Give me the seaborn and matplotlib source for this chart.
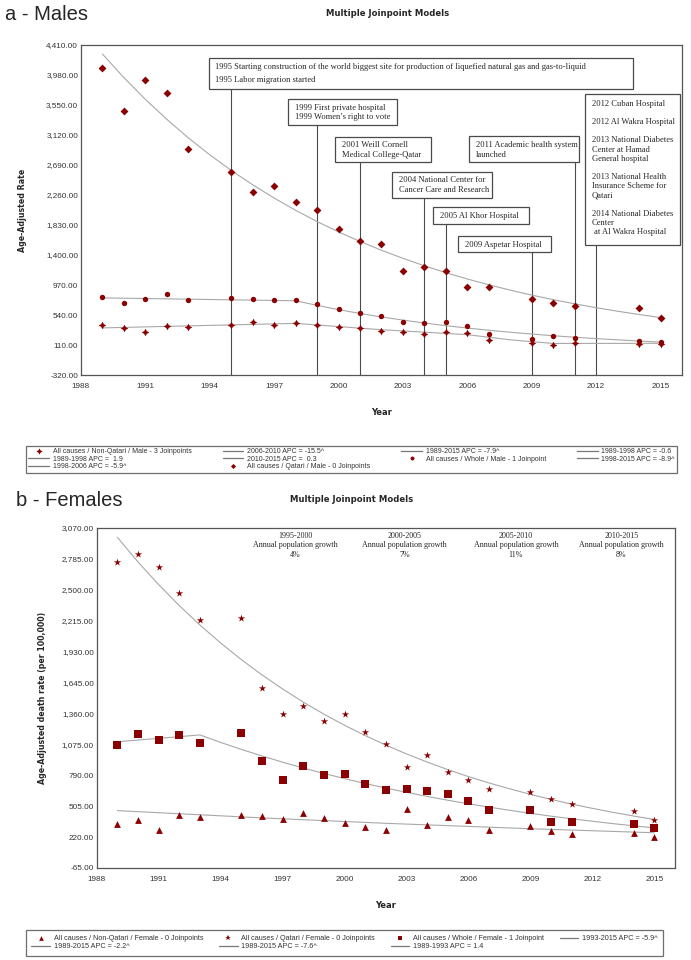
import seaborn as sns
import matplotlib.pyplot as plt
from matplotlib.patches import Rectangle
from matplotlib.lines import Line2D

# ---------------- data: panel a (males) ----------------
years = [1989, 1990, 1991, 1992, 1993, 1995, 1996, 1997, 1998, 1999, 2000, 2001,
         2002, 2003, 2004, 2005, 2006, 2007, 2009, 2010, 2011, 2014, 2015]
qatari_m = [4085, 3459, 3904, 3717, 2924, 2590, 2303, 2389, 2155, 2040, 1770, 1605,
            1558, 1175, 1228, 1166, 941, 941, 774, 707, 669, 636, 497]
whole_m = [798, 712, 769, 845, 760, 784, 769, 760, 755, 693, 626, 569,
           530, 444, 421, 440, 382, 268, 200, 239, 206, 172, 157]
nonqatari_m = [392, 349, 301, 378, 373, 397, 435, 401, 430, 392, 363, 349,
               311, 296, 263, 301, 277, 182, 143, 114, 134, 124, 120]

fit_years = list(range(1989, 2016))
qatari_m_fit = [4280, 3942, 3630, 3344, 3079, 2836, 2612, 2406, 2216, 2041, 1879, 1731, 1594,
                1468, 1352, 1245, 1147, 1056, 973, 896, 825, 760, 700, 645, 594, 547, 504]
whole_m_fit_years = [1989] + list(range(1998, 2016))
whole_m_fit = [785, 744, 678, 617, 562, 512, 467, 425, 387, 353, 321, 293, 267, 243, 221,
               202, 184, 167, 152]
nonqatari_m_fit_years = [1989, 1998, 2002, 2006, 2008, 2010, 2015]
nonqatari_m_fit = [355, 420, 329, 258, 184, 132, 134]

yticks_a = [-320, 110, 540, 970, 1400, 1830, 2260, 2690, 3120, 3550, 3980, 4410]

# ---------------- data: panel b (females) ----------------
qatari_f = [2753, 2832, 2709, 2469, 2222, 2238, 1591, 1354, 1425, 1293, 1351, 1188,
            1074, 864, 975, 822, 751, 661, 633, 575, 523, 464, 378]
whole_f = [1065, 1166, 1111, 1157, 1090, 1182, 917, 744, 874, 797, 800, 714,
           656, 665, 649, 615, 557, 467, 467, 363, 360, 341, 301]
nonqatari_f = [338, 381, 289, 425, 402, 421, 418, 384, 443, 393, 351, 314,
               289, 480, 335, 402, 381, 282, 326, 273, 252, 261, 218]

qatari_f_fit = [2984, 2757, 2548, 2354, 2175, 2010, 1857, 1716, 1586, 1465, 1354, 1251, 1156,
                1068, 987, 912, 842, 778, 719, 665, 614, 567, 524, 485, 448, 414, 382]
whole_f_fit_years = [1989] + list(range(1993, 2016))
whole_f_fit = [1099, 1162, 1093, 1029, 968, 911, 857, 807, 759, 714, 672, 633, 595, 560,
               527, 496, 467, 439, 413, 389, 366, 344, 324, 305]
nonqatari_f_fit_years = [1989, 1996, 2002, 2009, 2015]
nonqatari_f_fit = [464, 397, 347, 297, 260]

yticks_b = [-65, 220, 505, 790, 1075, 1360, 1645, 1930, 2215, 2500, 2785, 3070]

growth_periods = ['1995-2000', '2000-2005', '2005-2010', '2010-2015']
growth_values = ['4%', '7%', '11%', '8%']

# ---------------- style ----------------
sns.set_style('white')
plt.rcParams['font.family'] = ['Liberation Sans', 'DejaVu Sans']

RED = '#8b0000'
FIT = '#a8a8a8'
DARK = '#4a4a4a'
SERIF = 'Liberation Serif'
BOLD = 'DejaVu Sans'

fig = plt.figure(figsize=(6.91, 9.6), dpi=100)
ax_a = fig.add_axes([81 / 691, 1 - 375 / 960, 601 / 691, 330 / 960])
ax_b = fig.add_axes([96.7 / 691, 1 - 868 / 960, 578.3 / 691, 340 / 960])


def style_axes(ax, yticks, ylabel, ylab_x):
    ax.set_xlim(1988, 2016)
    ax.set_xticks(range(1988, 2016, 3))
    ax.set_ylim(yticks[0], yticks[-1])
    ax.set_yticks(yticks)
    ax.set_yticklabels([f'{v:,.2f}' for v in yticks])
    ax.tick_params(axis='both', length=0, labelsize=5.9, labelcolor='#333333')
    ax.tick_params(axis='x', pad=5.5)
    ax.tick_params(axis='y', pad=2)
    for s in ax.spines.values():
        s.set_color('#555555')
        s.set_linewidth(0.9)
    ax.set_xlabel('Year', family=BOLD, fontweight='bold', fontsize=6, labelpad=13)
    ax.set_ylabel(ylabel, family=BOLD, fontweight='bold', fontsize=5.7)
    ax.yaxis.set_label_coords(ylab_x, 0.5)


# ---------------- panel a ----------------
ax = ax_a
sns.lineplot(x=fit_years, y=qatari_m_fit, ax=ax, color=FIT, lw=0.8, sort=False, zorder=2)
sns.lineplot(x=whole_m_fit_years, y=whole_m_fit, ax=ax, color=FIT, lw=0.8, sort=False, zorder=2)
sns.lineplot(x=nonqatari_m_fit_years, y=nonqatari_m_fit, ax=ax, color=FIT, lw=0.8, sort=False, zorder=2)
sns.scatterplot(x=years, y=qatari_m, ax=ax, marker='D', s=16, color=RED, linewidth=0, zorder=4)
sns.scatterplot(x=years, y=whole_m, ax=ax, marker='o', s=15, color=RED, linewidth=0, zorder=4)
sns.scatterplot(x=years, y=nonqatari_m, ax=ax, marker=(4, 1, 0), s=30, color=RED, linewidth=0, zorder=4)
style_axes(ax, yticks_a, 'Age-Adjusted Rate', -0.09)


def note(ax, x0, x1, y0, y1, text, tx, ty, ls=1.25, va='center'):
    ax.add_patch(Rectangle((x0, y0), x1 - x0, y1 - y0, facecolor='white',
                           edgecolor=DARK, lw=0.9, zorder=5))
    ax.text(tx, ty, text, family=SERIF, fontsize=6.1, ha='left', va=va,
            linespacing=ls, zorder=6)


# event boxes, with a vertical line from each box down to the axis
events = [
    (1995, 1993.96, 2013.72, 3779, 4228,
     '1995 Starting construction of the world biggest site for production of liquefied natural gas and gas-to-liquid\n'
     '1995 Labor migration started', 1994.24, 3999, 1.8),
    (1999, 1997.65, 2002.73, 3263, 3636,
     '1999 First private hospital\n1999 Women\u2019s right to vote', 1997.97, 3443, 1.2),
    (2001, 1999.84, 2004.31, 2729, 3096,
     '2001 Weill Cornell\nMedical College-Qatar', 2000.16, 2905, 1.2),
    (2004, 2002.49, 2007.15, 2221, 2594,
     '2004 National Center for\nCancer Care and Research', 2002.80, 2403, 1.2),
    (2005, 2004.40, 2008.86, 1844, 2084, '2005 Al Khor Hospital', 2004.73, 1955, 1.2),
    (2009, 2005.57, 2009.90, 1439, 1672, '2009 Aspetar Hospital', 2005.89, 1548, 1.2),
    (2011, 2006.08, 2011.21, 2729, 3106,
     '2011 Academic health system\nlaunched', 2006.40, 2905, 1.2),
]
for yr, x0, x1, y0, y1, txt, tx, ty, ls in events:
    ax.vlines(yr, yticks_a[0], y0, color=DARK, lw=0.8, zorder=1)
    note(ax, x0, x1, y0, y1, txt, tx, ty, ls)

ax.vlines(2012, yticks_a[0], 1543, color=DARK, lw=0.8, zorder=1)
note(ax, 2011.49, 2015.91, 1543, 3703,
     '2012 Cuban Hospital\n\n2012 Al Wakra Hospital\n\n2013 National Diabetes\nCenter at Hamad\n'
     'General hospital\n\n2013 National Health\nInsurance Scheme for\nQatari\n\n'
     '2014 National Diabetes\nCenter\n at Al Wakra Hospital',
     2011.79, 3628, ls=1.2, va='top')

# ---------------- panel b ----------------
ax = ax_b
sns.lineplot(x=fit_years, y=qatari_f_fit, ax=ax, color=FIT, lw=0.8, sort=False, zorder=2)
sns.lineplot(x=whole_f_fit_years, y=whole_f_fit, ax=ax, color=FIT, lw=0.8, sort=False, zorder=2)
sns.lineplot(x=nonqatari_f_fit_years, y=nonqatari_f_fit, ax=ax, color=FIT, lw=0.8, sort=False, zorder=2)
sns.scatterplot(x=years, y=qatari_f, ax=ax, marker='*', s=30, color=RED, linewidth=0, zorder=4)
sns.scatterplot(x=years, y=whole_f, ax=ax, marker='s', s=26, color=RED, linewidth=0, zorder=4)
sns.scatterplot(x=years, y=nonqatari_f, ax=ax, marker='^', s=24, color=RED, linewidth=0, zorder=4)
style_axes(ax, yticks_b, 'Age-Adjusted death rate (per 100,000)', -0.086)

for cx, per, val in zip([1997.6, 2002.9, 2008.3, 2013.4], growth_periods, growth_values):
    ax.text(cx, 3036, f'{per}\nAnnual population growth\n{val}', family=SERIF,
            fontsize=5.8, ha='center', va='top', linespacing=1.25)

# ---------------- titles ----------------
fig.text(5 / 691, 1 - 14 / 960, 'a - Males', fontsize=14.5, ha='left', va='center')
fig.text(16 / 691, 1 - 500 / 960, 'b - Females', fontsize=14.5, ha='left', va='center')
fig.text(388 / 691, 1 - 14 / 960, 'Multiple Joinpoint Models', family=BOLD,
         fontweight='bold', fontsize=6.1, ha='center', va='center')
fig.text(352 / 691, 1 - 499 / 960, 'Multiple Joinpoint Models', family=BOLD,
         fontweight='bold', fontsize=6.1, ha='center', va='center')

# ---------------- legends ----------------
def mk(marker, ms):
    return Line2D([], [], ls='none', marker=marker, ms=ms, color=RED, mew=0)


def ln():
    return Line2D([], [], color='#777777', lw=0.9)


legend_a = [
    (mk((4, 1, 0), 4.5), 'All causes / Non-Qatari / Male - 3 Joinpoints'),
    (ln(), '2006-2010 APC = -15.5^'),
    (ln(), '1989-2015 APC = -7.9^'),
    (ln(), '1989-1998 APC = -0.6'),
    (ln(), '1989-1998 APC =  1.9'),
    (ln(), '2010-2015 APC =  0.3'),
    (mk('o', 2.8), 'All causes / Whole / Male - 1 Joinpoint'),
    (ln(), '1998-2015 APC = -8.9^'),
    (ln(), '1998-2006 APC = -5.9^'),
    (mk('D', 2.6), 'All causes / Qatari / Male - 0 Joinpoints'),
]
order_a = [0, 4, 8, 1, 5, 9, 2, 6, 3, 7]

legend_b = [
    (mk('^', 3.4), 'All causes / Non-Qatari / Female - 0 Joinpoints'),
    (mk('*', 3.8), 'All causes / Qatari / Female - 0 Joinpoints'),
    (mk('s', 3.2), 'All causes / Whole / Female - 1 Joinpoint'),
    (ln(), '1993-2015 APC = -5.9^'),
    (ln(), '1989-2015 APC = -2.2^'),
    (ln(), '1989-2015 APC = -7.6^'),
    (ln(), '1989-1993 APC = 1.4'),
]
order_b = [0, 4, 1, 5, 2, 6, 3]

for items, order, box, fs, lsp, bpad, hl in [
        (legend_a, order_a, (26 / 691, 1 - 472 / 960, 651 / 691, 26 / 960), 5.0, 0.05, 0.35, 3.0),
        (legend_b, order_b, (26 / 691, 1 - 956 / 960, 637 / 691, 26 / 960), 5.2, 0.1, 0.75, 2.6)]:
    handles = [items[i][0] for i in order]
    labels = [items[i][1] for i in order]
    leg = fig.legend(handles, labels, ncol=4, mode='expand', loc='upper left',
                     bbox_to_anchor=box, bbox_transform=fig.transFigure,
                     fontsize=fs, frameon=True, fancybox=False, edgecolor=DARK,
                     handlelength=hl, handletextpad=0.5, labelspacing=lsp,
                     borderpad=bpad, borderaxespad=0, columnspacing=1.0)
    leg.get_frame().set_linewidth(0.9)
    for t in leg.get_texts():
        t.set_color('#333333')

fig.savefig('out.png', dpi=100, facecolor='white')
